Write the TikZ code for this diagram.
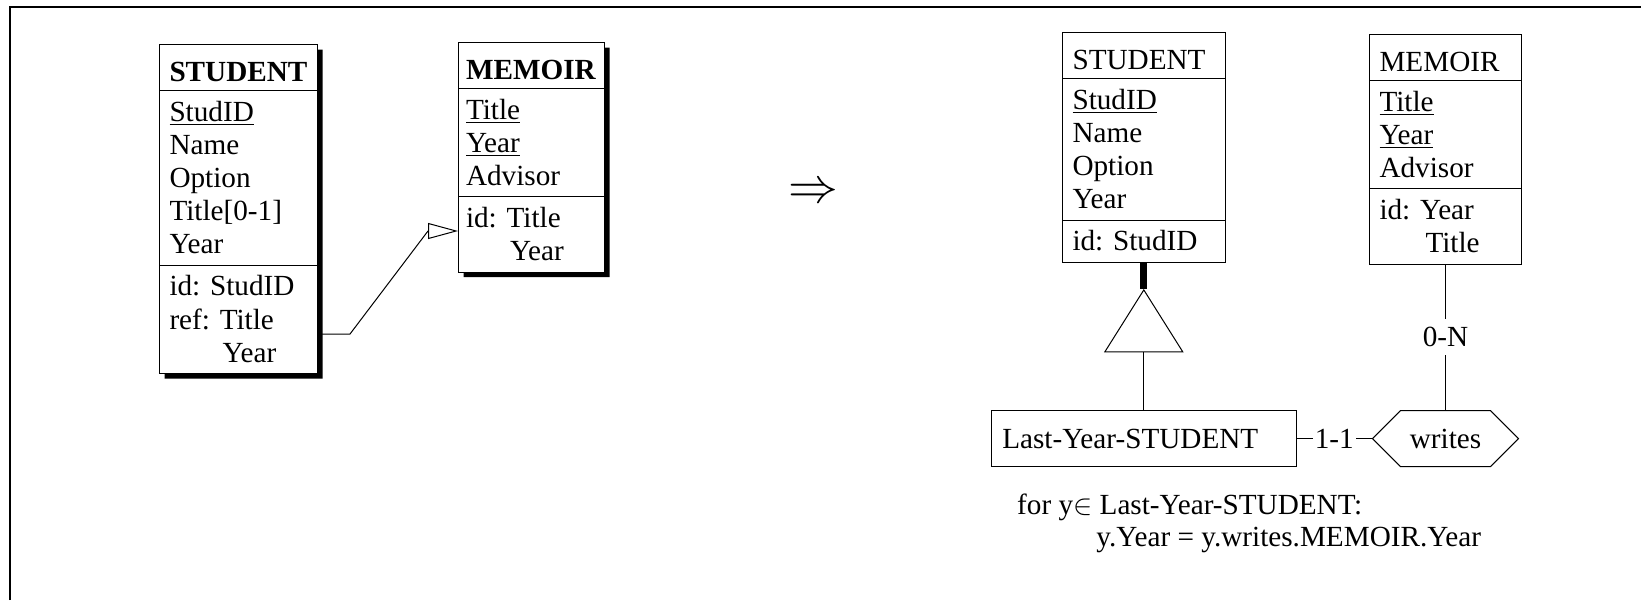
\documentclass[tikz,border=0pt]{standalone}
\usepackage{fontspec}
\setmainfont{Liberation Serif}
\usetikzlibrary{positioning, shapes.multipart, shapes.geometric, shapes.symbols, shadows, arrows.meta}

\newcommand{\hdstrut}{\rule[-1.375pt]{0pt}{16.25pt}}
\newcommand{\bdstrut}{\rule[-2.375pt]{0pt}{14.25pt}}

\begin{document}
\begin{tikzpicture}[x=0.5pt, y=-0.5pt, line width=.5pt,
        font=\fontsize{14.6}{16.6}\selectfont\frenchspacing,
        entity/.style={rectangle split, rectangle split parts=3, draw, fill=white,
            inner xsep=5pt, inner ysep=3.125pt, align=left, text width=#1},
        shadowed/.style={drop shadow={shadow xshift=2.5pt, shadow yshift=-2.5pt, fill=black, opacity=1}},
        isa/.style={isosceles triangle, shape border rotate=90, isosceles triangle stretches,
            minimum width=39pt, minimum height=31pt, inner sep=0pt, draw},
        rel/.style={signal, signal to=west and east, signal pointer angle=90, draw,
            minimum width=73pt, minimum height=28pt, inner sep=0pt},
        card/.style={fill=white, inner xsep=1pt, inner ysep=4pt}]
    \useasboundingbox (0,0) rectangle (1641,600);
    \draw[line width=1pt] (10,600) -- (10,7) -- (1641,7);

    % before
    \node[entity=69pt, shadowed, anchor=north west] (stu1) at (159,44)
        {\hdstrut\textbf{STUDENT}
         \nodepart{two}\bdstrut\underline{StudID}\\Name\\Option\\Title[0-1]\\Year\bdstrut
         \nodepart{three}\bdstrut id: StudID\\ref: Title\\\hspace*{26.5pt}Year\bdstrut};
    \node[entity=65.5pt, inner xsep=3.75pt, shadowed, anchor=north west] (mem1) at (458,42)
        {\hdstrut\textbf{MEMOIR}
         \nodepart{two}\bdstrut\underline{Title}\\\underline{Year}\\Advisor\bdstrut
         \nodepart{three}\bdstrut id: Title\\\hspace*{22pt}Year\bdstrut};
    \draw[-{Triangle[open, length=15pt, width=8pt]}] (stu1.east |- 0,334) -- ++(32,0)
        -- (428,231) -- (mem1.west |- 0,231);

    \node (impl) at (813,193) {\fontsize{29}{29}\selectfont$\Rightarrow$};

    % after
    \node[entity=71.3pt, anchor=north west] (stu2) at (1062,32)
        {\hdstrut STUDENT
         \nodepart{two}\bdstrut\underline{StudID}\\Name\\Option\\Year\bdstrut
         \nodepart{three}\bdstrut id: StudID\bdstrut};
    \node[entity=66pt, anchor=north west] (mem2) at (1369,34)
        {\hdstrut MEMOIR
         \nodepart{two}\bdstrut\underline{Title}\\\underline{Year}\\Advisor\bdstrut
         \nodepart{three}\bdstrut id: Year\\\hspace*{23pt}Title\bdstrut};
    \node[isa, below=13pt of stu2] (gen) {};
    \node[draw, text width=141.5pt, inner xsep=5.5pt, align=left, minimum height=28.35pt,
        below=28.65pt of gen] (lys) {Last-Year-STUDENT};
    \node[rel] (wr) at (lys.east -| mem2.south) {writes};

    \draw[line width=3.5pt] (stu2.south) -- (gen.north);
    \draw (gen.south) -- (lys.north);
    \draw (lys.east) -- node[card] {1-1} (wr.west);
    \draw (mem2.south) -- node[card] {0-N} (wr.north);

    \node[anchor=north west, align=left, inner sep=0pt] (cons) at (1016.7,493.3)
        {for y$\in$ Last-Year-STUDENT:\\[-0.75pt]\hspace*{39.6pt}y.Year = y.writes.MEMOIR.Year};
\end{tikzpicture}
\end{document}
